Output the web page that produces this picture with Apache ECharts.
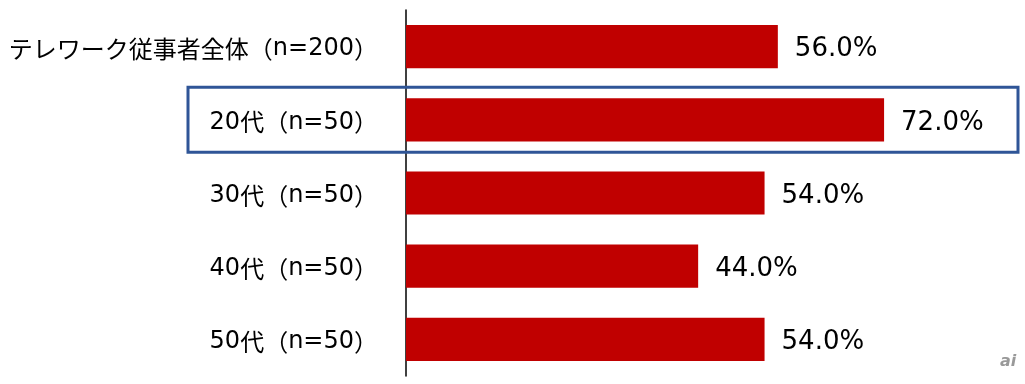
<!DOCTYPE html>
<html>
<head>
<meta charset="utf-8">
<script src="https://cdn.jsdelivr.net/npm/echarts@6/dist/echarts.min.js"></script>
<style>
html,body{margin:0;padding:0;background:#fff;}
#chart{width:1025px;height:384px;}
</style>
</head>
<body>
<div id="chart"></div>
<script>
const categories = ['テレワーク従事者全体（n=200）', '20代（n=50）', '30代（n=50）', '40代（n=50）', '50代（n=50）'];
const values = [56.0, 72.0, 54.0, 44.0, 54.0];
const highlightIndex = 1;

const LATIN = '"DejaVu Sans", sans-serif';
const CJK = '"Noto Sans CJK JP", sans-serif';

function richLabel(s) {
  let out = '', cur = '', curType = null;
  for (const ch of s) {
    const t = ch.charCodeAt(0) > 0x2000 ? 'c' : 'l';
    if (t !== curType && cur) { out += '{' + curType + '|' + cur + '}'; cur = ''; }
    curType = t; cur += ch;
  }
  if (cur) out += '{' + curType + '|' + cur + '}';
  return out;
}

const chart = echarts.init(document.getElementById('chart'), null, {renderer: 'canvas'});
chart.setOption({
  animation: false,
  backgroundColor: '#ffffff',
  grid: {left: 406, right: 21.4, top: 10, bottom: 8, containLabel: false, outerBoundsMode: 'none'},
  xAxis: {
    type: 'value', min: 0, max: 90, show: false
  },
  yAxis: {
    type: 'category', data: categories, inverse: true,
    axisLine: {show: true, lineStyle: {color: '#000', width: 1.5}},
    axisTick: {show: false},
    axisLabel: {
      color: '#000', margin: 28,
      formatter: v => richLabel(v),
      rich: {
        c: {fontFamily: CJK, fontSize: 24, color: '#000', padding: [5, 0, 0, 0]},
        l: {fontFamily: LATIN, fontSize: 24, color: '#000', padding: [5, 0, 0, 0]}
      }
    }
  },
  series: [{
    type: 'bar', data: values, barCategoryGap: '41%',
    itemStyle: {color: '#C00000'},
    label: {
      show: true, position: 'right', distance: 17, offset: [0, 3],
      color: '#000', fontSize: 26, fontFamily: LATIN,
      formatter: p => p.value.toFixed(1) + '%'
    }
  }]
});
const cy = chart.convertToPixel({yAxisIndex: 0}, categories[highlightIndex]);
chart.setOption({
  graphic: [
    {type: 'rect', shape: {x: 188, y: cy - 32.5, width: 830, height: 65},
     style: {fill: 'none', stroke: '#2F5597', lineWidth: 3}, z: 100},
    {type: 'text', x: 1000, y: 354, style: {text: 'ai', font: 'italic bold 16px "DejaVu Sans"', fill: '#999'}}
  ]
});
</script>
</body>
</html>
